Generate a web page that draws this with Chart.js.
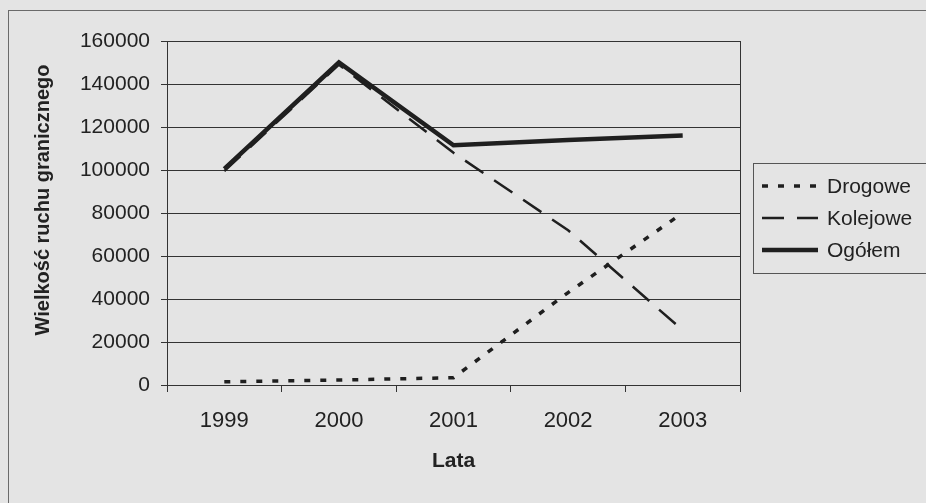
<!DOCTYPE html>
<html lang="pl">
<head>
<meta charset="utf-8">
<title>Wielkość ruchu granicznego</title>
<script src="https://cdn.jsdelivr.net/npm/chart.js@4.4.1/dist/chart.umd.min.js"></script>
<style>
  html, body { margin: 0; padding: 0; background: #e4e4e4; }
  #wrap { position: relative; width: 926px; height: 503px; overflow: hidden; }
  #frame { position: absolute; left: 8px; top: 10px; right: -4px; bottom: -4px; border-top: 1px solid #6a6a6a; border-left: 1px solid #6a6a6a; }
  canvas { position: absolute; left: 0; top: 0; }
</style>
</head>
<body>
<div id="wrap">
  <div id="frame"></div>
  <canvas id="chart" width="926" height="503"></canvas>
</div>
<script>
// data
const years = ['1999', '2000', '2001', '2002', '2003'];
const drogowe = [1500, 2300, 3400, 43000, 80000];
const kolejowe = [99500, 149000, 108000, 72000, 25500];
const ogolem = [100500, 150000, 111500, 114000, 116000];
const yMin = 0;
const yMax = 160000;
const yStep = 20000;
const yTitle = 'Wielkość ruchu granicznego';

const ink = '#1f1f1f';
const fontFamily = '"Liberation Sans", Arial, sans-serif';

Chart.defaults.font.family = fontFamily;
Chart.defaults.color = '#222';

// y title, legend box at the right, right edge of the plot area
const decor = {
  id: 'decor',
  afterDraw(chart) {
    const ctx = chart.ctx;
    const a = chart.chartArea;
    ctx.save();

    ctx.beginPath();
    ctx.lineWidth = 1;
    ctx.strokeStyle = '#333';
    ctx.moveTo(Math.round(a.right) + 0.5, a.top);
    ctx.lineTo(Math.round(a.right) + 0.5, a.bottom);
    ctx.stroke();

    // vertical axis title, a bit above the axis middle as in the scan
    ctx.save();
    ctx.translate(43, 200);
    ctx.rotate(-Math.PI / 2);
    ctx.font = 'bold 20px ' + fontFamily;
    ctx.fillStyle = '#222';
    ctx.textAlign = 'center';
    ctx.textBaseline = 'middle';
    ctx.fillText(yTitle, 0, 0);
    ctx.restore();

    ctx.strokeStyle = '#555';
    ctx.strokeRect(753.5, 163.5, 200, 110);

    chart.data.datasets.forEach((ds, i) => {
      const y = 186 + i * 32;
      ctx.beginPath();
      ctx.setLineDash(ds.borderDash || []);
      ctx.lineWidth = ds.borderWidth;
      ctx.strokeStyle = ds.borderColor;
      ctx.moveTo(762, y);
      ctx.lineTo(818, y);
      ctx.stroke();
      ctx.setLineDash([]);
      ctx.fillStyle = '#222';
      ctx.font = '21px ' + fontFamily;
      ctx.textBaseline = 'middle';
      ctx.fillText(ds.label, 827, y + 1);
    });
    ctx.restore();
  }
};

const ctx = document.getElementById('chart').getContext('2d');
new Chart(ctx, {
  type: 'line',
  data: {
    labels: years,
    datasets: [
      { label: 'Drogowe', data: drogowe, borderColor: ink, borderWidth: 3.5, borderDash: [6, 10], order: 1 },
      { label: 'Kolejowe', data: kolejowe, borderColor: ink, borderWidth: 2.5, borderDash: [22, 13], order: 1 },
      { label: 'Ogółem', data: ogolem, borderColor: ink, borderWidth: 4.5, order: 0 }
    ]
  },
  options: {
    responsive: false,
    animation: false,
    layout: { padding: { left: 0, top: 41, right: 186, bottom: 0 } },
    elements: {
      point: { radius: 0, hoverRadius: 0 },
      line: { tension: 0, fill: false, borderCapStyle: 'butt' }
    },
    plugins: {
      legend: { display: false },
      tooltip: { enabled: false }
    },
    scales: {
      x: {
        offset: true,
        grid: { offset: true, drawOnChartArea: false, tickLength: 7, color: '#333', tickColor: '#333' },
        border: { display: true, color: '#333' },
        ticks: { font: { size: 22 }, padding: 16, maxRotation: 0, autoSkip: false, color: '#222' },
        title: { display: true, text: 'Lata', font: { size: 21, weight: 'bold' }, padding: { top: 0, bottom: 29 }, color: '#222' },
        afterFit(scale) { scale.height = 118; }
      },
      y: {
        min: yMin,
        max: yMax,
        grid: { color: '#333', lineWidth: 1, tickLength: 6, tickColor: '#333' },
        border: { display: true, color: '#333' },
        ticks: {
          stepSize: yStep,
          font: { size: 21 },
          padding: 11,
          color: '#222',
          callback: (v) => String(v)
        },
        title: { display: false },
        afterFit(scale) { scale.width = 167; }
      }
    }
  },
  plugins: [decor]
});
</script>
</body>
</html>
